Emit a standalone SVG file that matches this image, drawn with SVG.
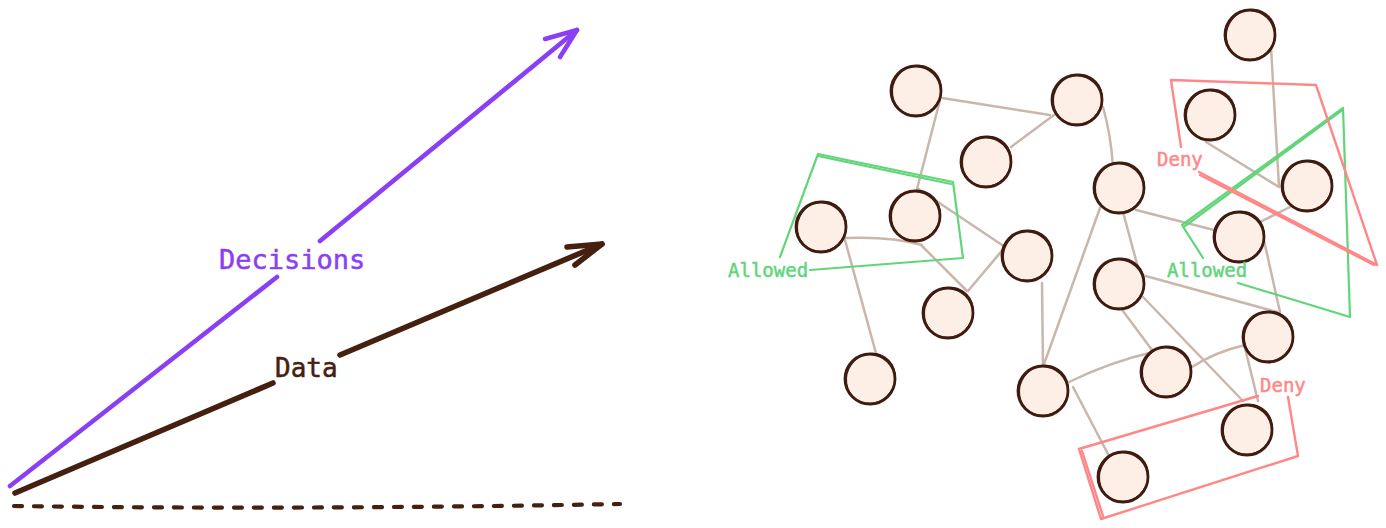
<svg xmlns="http://www.w3.org/2000/svg" xmlns:xlink="http://www.w3.org/1999/xlink" width="1386" height="528" viewBox="0 0 1386 528">
<style>
.edge{fill:none;stroke:#c9b7ac;stroke-width:2.5;stroke-linecap:round}
.nb{fill:#fdefe6;stroke:#3f1b10;stroke-width:2.8}
.ns{fill:none;stroke:#3f1b10;stroke-width:1.4}
.grn{fill:none;stroke:#62d57a;stroke-width:2.2;stroke-linejoin:round;stroke-linecap:round}
.red{fill:none;stroke:#ff8787;stroke-width:2.4;stroke-linejoin:round;stroke-linecap:round}
.lbl{font-family:"DejaVu Sans Mono","Liberation Mono",monospace;stroke-width:0.5}
</style>
<defs>
<g id="nd">
<circle r="25" class="nb"/>
<ellipse rx="24" ry="25.5" transform="translate(0.8,-0.6) rotate(35)" class="ns"/>
</g>
</defs>
<rect width="1386" height="528" fill="#ffffff"/>

<g id="left-arrows">
<g id="decisions" fill="none" stroke="#8b3ff5" stroke-width="4.6" stroke-linecap="round" stroke-linejoin="round">
<path d="M10,486 L277,277"/>
<path d="M320,241 L577,30"/>
<path d="M545,39 L577,30 L560,57"/>
</g>
<g id="data" fill="none" stroke="#45200f" stroke-width="5.6" stroke-linecap="round" stroke-linejoin="round">
<path d="M15,493 L273,383"/>
<path d="M340,355 L602,244"/>
<path d="M567,247 L602,244 L575,265"/>
</g>
<path id="baseline" d="M14,506 Q300,510 620,504" fill="none" stroke="#45200f" stroke-width="4.2" stroke-linecap="round" stroke-dasharray="8 12"/>
<text class="lbl" x="219" y="269" font-size="27" fill="#8b3ff5" stroke="#8b3ff5">Decisions</text>
<text class="lbl" x="275" y="377" font-size="26" fill="#45200f" stroke="#45200f">Data</text>
</g>

<g id="connectors">
<path class="edge" d="M942,98 L1050,115"/>
<path class="edge" d="M1011,147 L1054,115"/>
<path class="edge" d="M940,100 L917,189"/>
<path class="edge" d="M917,188 L1005,247"/>
<path class="edge" d="M845,238 Q890,236 922,245"/>
<path class="edge" d="M921,245 L967,291"/>
<path class="edge" d="M1005,247 L968,291"/>
<path class="edge" d="M845,240 L877,357"/>
<path class="edge" d="M1042,283 L1043,367"/>
<path class="edge" d="M1100,208 L1043,367"/>
<path class="edge" d="M1103,107 Q1111,135 1113,167"/>
<path class="edge" d="M1136,210 L1214,230"/>
<path class="edge" d="M1123,212 L1140,275"/>
<path class="edge" d="M1142,275 L1277,312"/>
<path class="edge" d="M1261,227 L1280,312"/>
<path class="edge" d="M1260,222 L1290,207"/>
<path class="edge" d="M1206,142 L1279,187"/>
<path class="edge" d="M1271,47 L1279,187"/>
<path class="edge" d="M1120,307 L1152,350"/>
<path class="edge" d="M1143,297 L1243,401"/>
<path class="edge" d="M1192,367 Q1215,352 1245,345"/>
<path class="edge" d="M1244,344 L1258,401"/>
<path class="edge" d="M1069,382 Q1110,362 1153,352"/>
<path class="edge" d="M1073,387 L1109,456"/>
</g>

<g id="nodes">
<g id="node-a" transform="translate(916,91)"><use xlink:href="#nd"/></g>
<g id="node-b" transform="translate(1077,100)"><use xlink:href="#nd"/></g>
<g id="node-c" transform="translate(986,162)"><use xlink:href="#nd"/></g>
<g id="node-d" transform="translate(1250,35)"><use xlink:href="#nd"/></g>
<g id="node-e" transform="translate(1210,115)"><use xlink:href="#nd"/></g>
<g id="node-f" transform="translate(1307,186)"><use xlink:href="#nd"/></g>
<g id="node-g" transform="translate(1119,188)"><use xlink:href="#nd"/></g>
<g id="node-h" transform="translate(1239,237)"><use xlink:href="#nd"/></g>
<g id="node-i" transform="translate(821,227)"><use xlink:href="#nd"/></g>
<g id="node-j" transform="translate(915,216)"><use xlink:href="#nd"/></g>
<g id="node-k" transform="translate(1027,256)"><use xlink:href="#nd"/></g>
<g id="node-l" transform="translate(948,313)"><use xlink:href="#nd"/></g>
<g id="node-m" transform="translate(870,379)"><use xlink:href="#nd"/></g>
<g id="node-n" transform="translate(1119,284)"><use xlink:href="#nd"/></g>
<g id="node-o" transform="translate(1268,337)"><use xlink:href="#nd"/></g>
<g id="node-p" transform="translate(1166,372)"><use xlink:href="#nd"/></g>
<g id="node-q" transform="translate(1043,391)"><use xlink:href="#nd"/></g>
<g id="node-r" transform="translate(1247,430)"><use xlink:href="#nd"/></g>
<g id="node-s" transform="translate(1123,477)"><use xlink:href="#nd"/></g>
</g>

<g id="zones">
<g id="allowed-left">
<path class="grn" d="M780,257 L818,154 L953,182 L963,258 L810,270"/>
<path class="grn" d="M818,156 L951,184" stroke-width="1.2"/>
<text class="lbl" x="728" y="277" font-size="19" fill="#62d57a" stroke="#62d57a" stroke-width="0.4">Allowed</text>
</g>
<g id="allowed-right">
<path class="grn" d="M1203,258 L1182,225 L1343,108 L1350,317 L1238,283"/>
<path class="grn" d="M1185,226 L1341,111" stroke-width="1.2"/>
<text class="lbl" x="1167" y="277" font-size="19" fill="#62d57a" stroke="#62d57a" stroke-width="0.4">Allowed</text>
</g>
<g id="deny-top">
<path class="red" d="M1181,147 L1171,80 L1316,85 L1377,265 L1199,172"/>
<path class="red" d="M1200,175 L1374,265" stroke-width="1.2"/>
<text class="lbl" x="1157" y="166" font-size="19" fill="#ff8787" stroke="#ff8787" stroke-width="0.4">Deny</text>
</g>
<g id="deny-bottom">
<path class="red" d="M1258,396 L1079,449 L1101,519 L1298,456 L1288,397"/>
<path class="red" d="M1082,451 L1103,516" stroke-width="1.2"/>
<text class="lbl" x="1260" y="392" font-size="19" fill="#ff8787" stroke="#ff8787" stroke-width="0.4">Deny</text>
</g>
</g>
</svg>
